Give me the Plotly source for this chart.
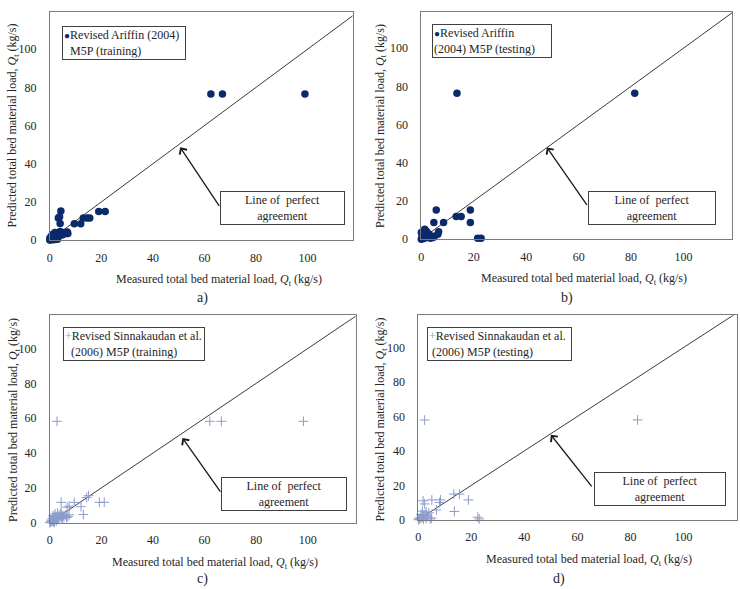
import plotly.graph_objects as go

# ---------------- data ----------------
# a) Revised Ariffin (2004) M5P (training)
a_measured = [62.5, 67, 99, 4.3, 3.3, 4.0, 3.8, 9.5, 12, 13, 14.5, 15.5, 19, 21.5,
              0, 0.3, 0.5, 0.8, 1, 1.2, 1.5, 1.8, 2, 2.2, 2.5, 2.8, 3, 3.2, 3.5, 3.8,
              4, 4.5, 5, 5.5, 6, 6.5, 7, 2, 1, 0.5, 1.5, 2.5, 3, 0, 0.2, 4.2, 5, 6.8]
a_predicted = [76.5, 76.5, 76.5, 15.2, 11.6, 8.7, 12.2, 8.6, 8.6, 11.6, 11.6, 11.6, 15, 15,
               0, 0.5, 1, 0.3, 1.5, 0.8, 2, 1.2, 2.5, 0.5, 3, 1.8, 3.5, 2.2, 4, 3,
               4.5, 3.5, 4, 3.5, 4, 3.5, 3.5, 4, 3, 2, 0.2, 1, 0.5, 1, 0.2, 2.5, 2.8, 4.2]

# b) Revised Ariffin (2004) M5P (testing)
b_measured = [13.6, 81.4, 5.7, 18.7, 4.8, 8.5, 18.7, 13.3, 15.2, 21.5, 22.8, 6.6, 5, 4, 3,
              0, 0.5, 1, 1.5, 1.2, 2, 2.5, 2, 3, 1, 2.5, 0.3, 3.5, 4.5, 1.8, 1.3, 0, 3.2, 6.3]
b_predicted = [76.4, 76.4, 15.2, 15.2, 8.7, 8.7, 8.7, 11.8, 11.8, 0.5, 0.5, 3.8, 1.5, 1, 1.5,
               0, 0.5, 1, 4.5, 3.5, 4, 3, 2, 2.5, 0.3, 0.8, 1.5, 0.5, 0.8, 1.5, 5.2, 3.5, 1.8, 2.6]

# c) Revised Sinnakaudan et al. (2006) M5P (training)
c_measured = [2.8, 62, 66.5, 98.3, 4.4, 6.7, 9.5, 12.1, 13, 15, 14.3, 19.2, 21.1, 7.5,
              0, 0.5, 1, 1.5, 2, 2.5, 3, 1, 2, 3, 4, 5, 6, 4.5, 5.5, 6.5, 7.5, 3.5, 2.5,
              1.5, 0.5, 4, 2, 3, 5, 7, 0.3, 1.2, 1.8, 4.4]
c_predicted = [58.2, 58.2, 58.2, 58.2, 11.7, 8.9, 11.7, 9.2, 4.7, 15.5, 14.5, 11.7, 11.7, 9.5,
               0, 0.5, 1, 1.5, 2, 2.5, 3, 2.5, 3.5, 4.5, 4, 4, 4.5, 3, 3.5, 3, 4.5, 2, 1,
               0.5, 1.5, 5, 5, 5.5, 2.5, 3.5, 0.3, 4, 0.2, 6]

# d) Revised Sinnakaudan et al. (2006) M5P (testing)
d_measured = [2.4, 82.7, 1.8, 2.4, 5.1, 8.4, 13.4, 15.5, 18.9, 13.6, 22.4, 23, 6.8, 8,
              4, 3, 2, 1, 0, 0.5, 1.5, 2.5, 3.5, 4.5, 1, 0.3, 2, 5, 3, 1.5]
d_predicted = [57.9, 58, 11, 9.2, 11.5, 11.5, 14.9, 14.9, 11.5, 4.8, 1.5, 0.5, 5.7, 10,
               4, 4.5, 2.5, 1, 0, 0.5, 1.5, 3, 2, 0.5, 3, 1, 0.3, 1, 0.8, 5]

perfect_line = [0, 120]
tick_values = [0, 20, 40, 60, 80, 100]

legend_labels = [
    "Revised Ariffin (2004)<br>\u00a0\u00a0M5P (training)",
    "Revised Ariffin<br>(2004) M5P (testing)",
    "Revised Sinnakaudan et al.<br>\u00a0\u00a0(2006) M5P (training)",
    "Revised Sinnakaudan et al.<br>\u00a0(2006) M5P (testing)",
]
captions = ["a)", "b)", "c)", "d)"]
x_title = "Measured total bed material load, <i>Q</i><sub>t</sub> (kg/s)"
y_title = "Predicted total bed material load, <i>Q</i><sub>t</sub> (kg/s)"
box_text = "Line of\u00a0 perfect<br>agreement"

# ---------------- styling / layout ----------------
W, H = 740, 589
FONT = "Liberation Serif"
DOT = "#0b2a6b"
CROSS = "#8c9ccc"
TXT = "#262626"


def px(x):
    return x / W


def py(y):
    return 1 - y / H


panels = [
    dict(meas=a_measured, pred=a_predicted, kind="dot",
         dom_x=(47, 351), dom_y=(12, 243), xr=117.5, yr=119.6,
         leg=(59, 26, 120), box=(218, 193, 121), arrow=(50.6, 48.6, 40, 60),
         xt=(217, 283), yt=(11, 127), cap=(200, 302)),
    dict(meas=b_measured, pred=b_predicted, kind="dot",
         dom_x=(420, 732), dom_y=(12, 242), xr=118.5, yr=119,
         leg=(431, 24, 116), box=(587, 193, 124), arrow=(47.9, 48, 41, 59),
         xt=(583, 282), yt=(380, 127), cap=(566, 302)),
    dict(meas=c_measured, pred=c_predicted, kind="cross",
         dom_x=(47, 354), dom_y=(319, 529), xr=118.5, yr=119.1,
         leg=(60, 331, 138), box=(219, 483, 122), arrow=(51.4, 48.6, 39, 55),
         xt=(213, 570), yt=(11, 425), cap=(200, 586)),
    dict(meas=d_measured, pred=d_predicted, kind="cross",
         dom_x=(417, 737), dom_y=(319, 526), xr=120.2, yr=118.8,
         leg=(426, 331, 141), box=(593, 478, 128), arrow=(50, 49.3, 42, 53),
         xt=(588, 567), yt=(380, 424), cap=(558, 586)),
]

fig = go.Figure()
annotations = []
layout = dict(
    width=W, height=H, margin=dict(l=0, r=0, t=0, b=0),
    paper_bgcolor="white", plot_bgcolor="white", showlegend=False,
    font=dict(family=FONT, size=12, color=TXT),
)

for i, p in enumerate(panels):
    n = "" if i == 0 else str(i + 1)
    xa, ya = "x" + n, "y" + n
    axis_common = dict(
        showline=True, mirror=True, linecolor="#7a7a7a", linewidth=1,
        showgrid=False, zeroline=False, ticks="", tickvals=tick_values,
        tickfont=dict(family=FONT, size=12, color=TXT),
        fixedrange=True,
    )
    layout["xaxis" + n] = dict(axis_common, domain=[px(p["dom_x"][0]), px(p["dom_x"][1])],
                               range=[0, p["xr"]], anchor=ya, ticklabelstandoff=6)
    layout["yaxis" + n] = dict(axis_common, domain=[py(p["dom_y"][1]), py(p["dom_y"][0])],
                               range=[0, p["yr"]], anchor=xa, ticklabelstandoff=10)

    # perfect agreement line
    fig.add_trace(go.Scatter(x=perfect_line, y=perfect_line, mode="lines",
                             line=dict(color="#3a3a3a", width=1), xaxis=xa, yaxis=ya,
                             hoverinfo="skip"))
    if p["kind"] == "dot":
        marker = dict(symbol="circle", size=7.5, color=DOT, line=dict(width=0))
        sym = "<span style='color:%s;font-size:10px'>\u25cf</span>" % DOT
    else:
        marker = dict(symbol="cross-thin", size=7, color=CROSS,
                      line=dict(width=1, color=CROSS))
        sym = "<span style='color:%s'>+</span>" % CROSS
    fig.add_trace(go.Scatter(x=p["meas"], y=p["pred"], mode="markers", marker=marker,
                             xaxis=xa, yaxis=ya, cliponaxis=False,
                             name=legend_labels[i].replace("<br>", " ")))

    # legend box
    lx, ly, lw = p["leg"]
    annotations.append(dict(
        xref="paper", yref="paper", x=px(lx), y=py(ly), xanchor="left", yanchor="top",
        text=sym + legend_labels[i], showarrow=False, align="left", width=lw,
        bordercolor="#404040", borderwidth=1, borderpad=1, bgcolor="white",
        font=dict(family=FONT, size=12, color=TXT)))

    # "Line of perfect agreement" box
    bx, by, bw = p["box"]
    annotations.append(dict(
        xref="paper", yref="paper", x=px(bx), y=py(by), xanchor="left", yanchor="top",
        text=box_text, showarrow=False, align="center", width=bw,
        bordercolor="#404040", borderwidth=1, borderpad=1, bgcolor="white",
        font=dict(family=FONT, size=12, color=TXT)))

    # arrow
    hx, hy, dx, dy = p["arrow"]
    annotations.append(dict(
        xref=xa, yref=ya, x=hx, y=hy, ax=dx, ay=dy, text="", showarrow=True,
        arrowhead=4, arrowsize=1.3, arrowwidth=1.3, arrowcolor="#1a1a1a",
        standoff=0))

    # axis titles
    tx, ty = p["xt"]
    annotations.append(dict(xref="paper", yref="paper", x=px(tx), y=py(ty),
                            xanchor="center", yanchor="middle", text=x_title,
                            showarrow=False, font=dict(family=FONT, size=12, color=TXT)))
    tx, ty = p["yt"]
    annotations.append(dict(xref="paper", yref="paper", x=px(tx), y=py(ty),
                            xanchor="center", yanchor="middle", text=y_title,
                            textangle=-90, showarrow=False,
                            font=dict(family=FONT, size=12, color=TXT)))
    # caption
    cx, cy = p["cap"]
    annotations.append(dict(xref="paper", yref="paper", x=px(cx), y=py(cy),
                            xanchor="center", yanchor="middle",
                            text=captions[i], showarrow=False,
                            font=dict(family=FONT, size=14, color=TXT)))

layout["annotations"] = annotations
fig.update_layout(**layout)
fig.write_html("out.html")
